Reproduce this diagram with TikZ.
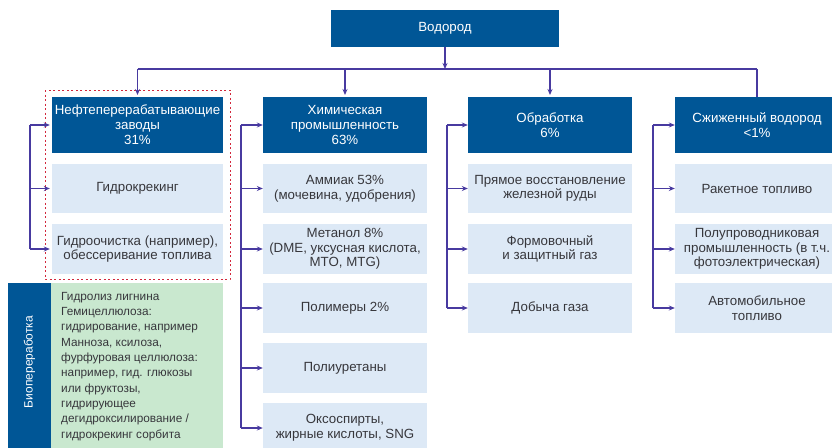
\documentclass[tikz,border=0pt]{standalone}
\usepackage{fontspec}
\setmainfont{Liberation Sans}
\usetikzlibrary{arrows.meta}
\definecolor{hdrblue}{RGB}{0,86,150}
\definecolor{subblue}{RGB}{221,233,246}
\definecolor{biogreen}{RGB}{201,232,207}
\definecolor{arr}{RGB}{72,58,160}
\definecolor{dotred}{RGB}{210,40,60}
\definecolor{txt}{RGB}{55,55,60}
\tikzset{
  hdr/.style={fill=hdrblue, text=white, minimum width=164pt, minimum height=56pt, inner sep=0pt, align=center, font=\fontsize{13.3}{15}\selectfont},
  sub/.style={fill=subblue, text=txt, minimum width=164pt, minimum height=50pt, inner sep=0pt, align=center, font=\fontsize{13.3}{14.6}\selectfont},
  conn/.style={draw=arr, line width=1.2pt},
  arrw/.style={conn, -{Stealth[length=6pt,width=5pt]}},
}
\begin{document}
\begin{tikzpicture}[x=1pt,y=-1pt]
\useasboundingbox (0,0) rectangle (832,447);
% top
\node[hdr, minimum width=228pt, minimum height=37pt] (top) at (445,28.5) {Водород};
\coordinate (bus) at (445,69);
% headers
\node[hdr, minimum width=171pt] (h1) at (137.5,125) {Нефтеперерабатывающие\\заводы\\31\%};
\node[hdr] (h2) at (345,125) {Химическая\\промышленность\\63\%};
\node[hdr] (h3) at (550,125) {Обработка\\6\%};
\node[hdr] (h4) at (757,125) {Сжиженный водород\\<1\%};
% column 1
\node[sub, minimum width=171pt, minimum height=49pt] (a1) at (137.5,188.5) {Гидрокрекинг};
\node[sub, minimum width=171pt] (a2) at (137.5,249) {Гидроочистка (например),\\обессеривание топлива};
\draw[dotred, line width=1pt, dash pattern=on 2pt off 2.5pt] (45,90) rectangle (230,279);
% column 2
\node[sub, minimum height=49pt] (b1) at (345,188.5) {Аммиак 53\%\\(мочевина, удобрения)};
\node[sub] (b2) at (345,249) {Метанол 8\%\\(DME, уксусная кислота,\\MTO, MTG)};
\node[sub] (b3) at (345,308) {Полимеры 2\%};
\node[sub] (b4) at (345,368) {Полиуретаны};
\node[sub] (b5) at (345,428) {Оксоспирты,\\жирные кислоты, SNG};
% column 3
\node[sub, minimum height=49pt] (c1) at (550,188.5) {Прямое восстановление\\железной руды};
\node[sub] (c2) at (550,249) {Формовочный\\и защитный газ};
\node[sub] (c3) at (550,308) {Добыча газа};
% column 4
\node[sub, minimum height=49pt] (d1) at (757,188.5) {Ракетное топливо};
\node[sub] (d2) at (757,249) {Полупроводниковая\\промышленность (в т.ч.\\фотоэлектрическая)};
\node[sub] (d3) at (757,308) {Автомобильное\\топливо};
% bio
\node[fill=hdrblue, minimum width=43pt, minimum height=170pt, inner sep=0pt, anchor=north west] (bios) at (8,283) {};
\node[text=white, rotate=90, font=\fontsize{12}{14}\selectfont] (biot) at (29.5,362) {Биопереработка};
\node[fill=biogreen, minimum width=172pt, minimum height=170pt, inner sep=0pt, anchor=north west] (biog) at (51,283) {};
\node[anchor=north west, align=left, text=txt, inner sep=0pt, font=\fontsize{11.8}{15.3}\selectfont] (biotx) at (61,292) {Гидролиз лигнина\\Гемицеллюлоза:\\гидрирование, например\\Манноза, ксилоза,\\фурфуровая целлюлоза:\\например, гид. глюкозы\\или фруктозы,\\гидрирующее\\дегидроксилирование /\\гидрокрекинг сорбита};
% connectors top
\draw[arrw] (top.south) -- (bus);
\coordinate (busL) at (137.5,69);
\coordinate (busR) at (757,69);
\draw[conn] (busL) -- (busR);
\draw[arrw] (busL) -- (137.5,95);
\draw[arrw] (345,69) -- (345,95);
\draw[arrw] (550,69) -- (550,95);
\draw[conn] (busR) -- (h4.north);
% column connectors
\draw[conn] (30,125) -- (30,249);
\foreach \n in {h1,a1,a2} \draw[arrw] (30,0 |- \n.west) -- ([xshift=-2pt]\n.west);
\draw[conn] (241,125) -- (241,428);
\foreach \n in {h2,b1,b2,b3,b4,b5} \draw[arrw] (241,0 |- \n.west) -- (\n.west);
\draw[conn] (447,125) -- (447,308);
\foreach \n in {h3,c1,c2,c3} \draw[arrw] (447,0 |- \n.west) -- (\n.west);
\draw[conn] (653,125) -- (653,308);
\foreach \n in {h4,d1,d2,d3} \draw[arrw] (653,0 |- \n.west) -- (\n.west);
\end{tikzpicture}
\end{document}
